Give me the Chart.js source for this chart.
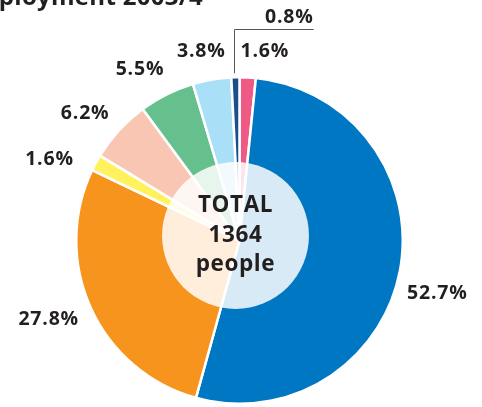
<!DOCTYPE html>
<html>
<head>
<meta charset="utf-8">
<script src="https://cdn.jsdelivr.net/npm/chart.js@4/dist/chart.umd.min.js"></script>
<style>
  html, body { margin: 0; padding: 0; background: #ffffff; }
  #wrap { position: relative; width: 482px; height: 407px; overflow: hidden; }
</style>
</head>
<body>
<div id="wrap"><canvas id="c" width="482" height="407"></canvas></div>
<script>
// ---- data ----
const categories = ['Group 1', 'Group 2', 'Group 3', 'Group 4', 'Group 5', 'Group 6', 'Group 7', 'Group 8'];
const shares = [1.6, 52.7, 27.8, 1.6, 6.2, 5.5, 3.8, 0.8];
const percentLabels = ['1.6%', '52.7%', '27.8%', '1.6%', '6.2%', '5.5%', '3.8%', '0.8%'];
const centerLines = ['TOTAL', '1364', 'people'];
const titleText = 'Employment 2003/4';

// ---- styles ----
const sliceColors = ['#ee5a85', '#0077c2', '#f7941e', '#fff25c', '#f9c6b3', '#66c08d', '#aadff8', '#1b4e8a'];
// label placement: angle shift (deg) and distance as multiple of outer radius
const labelLayout = [
  null,
  { da: 4.4, k: 1.255 },
  { da: 2.0, k: 1.265 },
  { da: -5.4, k: 1.265 },
  { da: -3.0, k: 1.225 },
  { da: -3.8, k: 1.21 },
  { da: -1.7, k: 1.18 },
  null
];
const textColor = '#231f20';
const labelFont = 'bold 19.5px "Open Sans"';

const overlayPlugin = {
  id: 'overlay',
  afterDatasetsDraw(chart) {
    const ctx = chart.ctx;
    const meta = chart.getDatasetMeta(0);
    const arcs = meta.data;
    const cx = arcs[0].x, cy = arcs[0].y, R = arcs[0].outerRadius;
    ctx.save();
    // translucent centre disc
    ctx.fillStyle = 'rgba(255,255,255,0.845)';
    ctx.beginPath();
    ctx.arc(cx - 4, cy - 5, R * 0.45, 0, Math.PI * 2);
    ctx.fill();

    // centre text
    ctx.fillStyle = textColor;
    ctx.font = 'bold 22.5px "Open Sans"';
    ctx.letterSpacing = '0.6px';
    ctx.textAlign = 'center';
    ctx.textBaseline = 'middle';
    centerLines.forEach((t, i) => {
      ctx.fillText(t, cx - 4, cy - 5 + (i - 1) * 29.5);
    });

    // outside labels
    ctx.font = labelFont;
    ctx.letterSpacing = '0.8px';
    arcs.forEach((a, i) => {
      const lay = labelLayout[i];
      if (!lay) return;
      const mid = (a.startAngle + a.endAngle) / 2 + lay.da * Math.PI / 180;
      const x = cx + Math.cos(mid) * R * lay.k;
      const y = cy + Math.sin(mid) * R * lay.k;
      ctx.fillText(percentLabels[i], x, y);
    });

    // leader line for smallest slice
    const last = arcs.length - 1;
    const la = arcs[last];
    const lmid = (la.startAngle + la.endAngle) / 2;
    const lx = Math.round(cx + Math.cos(lmid) * R) - 0.5;
    const yBottom = cy + Math.sin(lmid) * R - 4;
    const yTop = Math.round(cy - R * 1.295) + 0.5;
    const lineEnd = lx + R * 0.485;
    ctx.strokeStyle = '#555555';
    ctx.lineWidth = 1;
    ctx.beginPath();
    ctx.moveTo(lx, yBottom);
    ctx.lineTo(lx, yTop);
    ctx.lineTo(lineEnd, yTop);
    ctx.stroke();
    ctx.textAlign = 'right';
    ctx.textBaseline = 'alphabetic';
    ctx.fillText(percentLabels[last], lineEnd, yTop - 7);
    // first slice label sits right of the leader line
    ctx.textAlign = 'left';
    ctx.textBaseline = 'middle';
    ctx.fillText(percentLabels[0], lx + 6, cy - R * 1.157);

    // title (clipped at top-left, as in the source)
    ctx.font = 'bold 24px "Open Sans"';
    ctx.letterSpacing = '0.3px';
    ctx.textAlign = 'right';
    ctx.textBaseline = 'alphabetic';
    ctx.fillText(titleText, 203, 5);
    ctx.restore();
  }
};

new Chart(document.getElementById('c'), {
  type: 'pie',
  data: {
    labels: categories,
    datasets: [{
      data: shares,
      backgroundColor: sliceColors,
      borderColor: '#ffffff',
      borderWidth: 2.5,
      hoverOffset: 0
    }]
  },
  options: {
    responsive: false,
    animation: false,
    devicePixelRatio: 1,
    rotation: 0,
    layout: { padding: { left: 75, right: 78, top: 76, bottom: 2 } },
    plugins: {
      legend: { display: false },
      tooltip: { enabled: false },
      title: { display: false }
    }
  },
  plugins: [overlayPlugin]
});
</script>
</body>
</html>
